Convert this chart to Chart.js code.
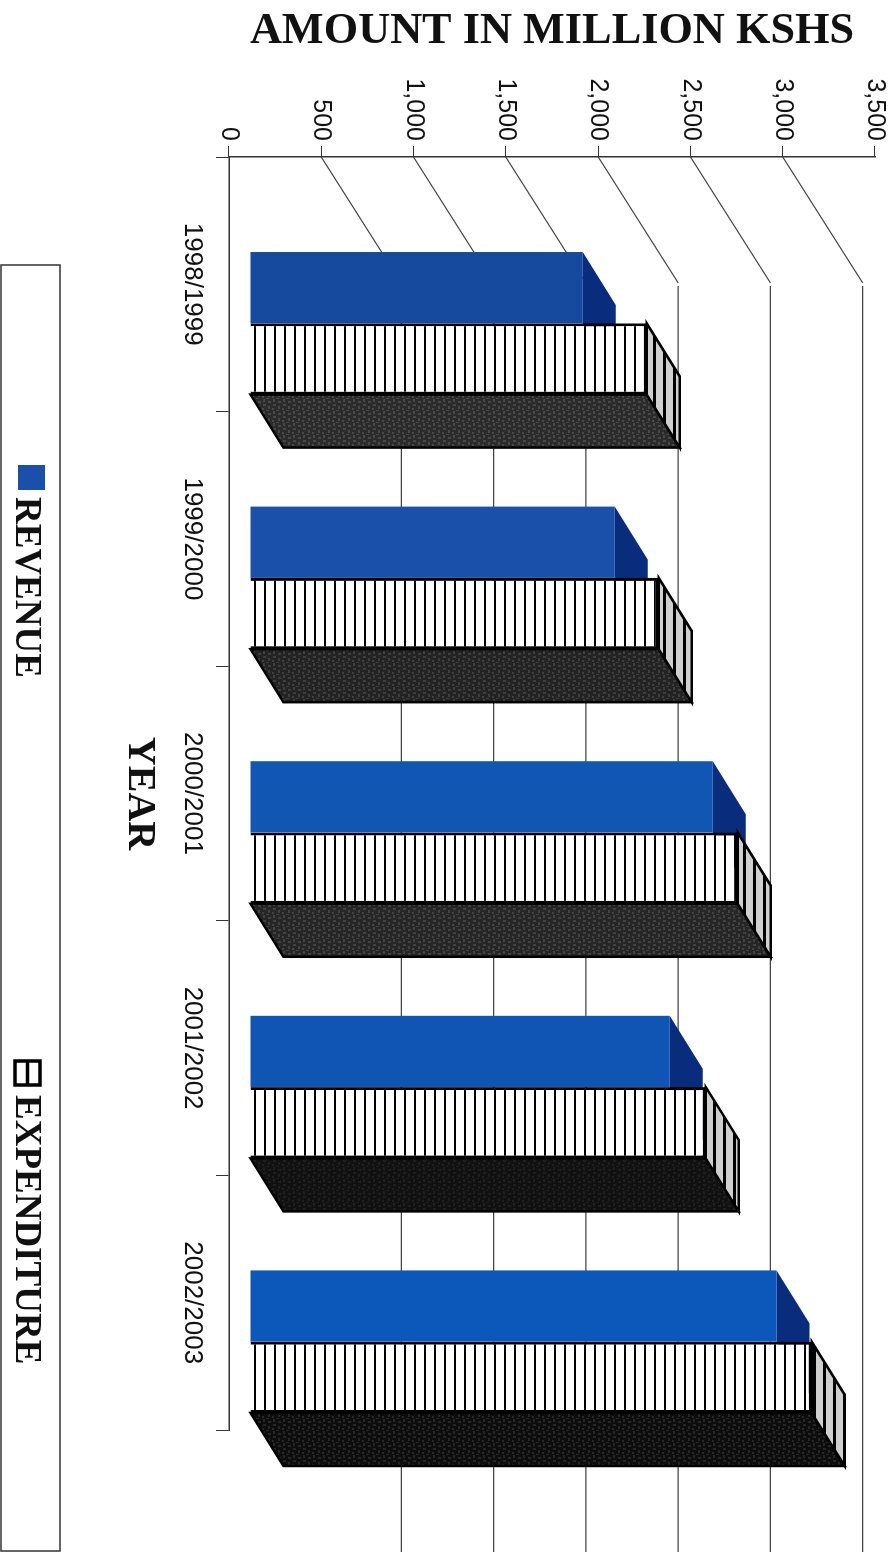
<!DOCTYPE html>
<html>
<head>
<meta charset="utf-8">
<title>Amount in million Kshs</title>
<script src="https://cdn.jsdelivr.net/npm/chart.js@4"></script>
<style>
    html, body { margin: 0; padding: 0; background: #fff; overflow: hidden; }
    /* the page is a landscape chart turned a quarter clockwise */
    #wrap { position: absolute; left: 895px; top: 0; width: 1552px; height: 895px;
            transform-origin: 0 0; transform: rotate(90deg); }
</style>
</head>
<body>
<div id="wrap"><canvas id="chart" width="1552" height="895"></canvas></div>
<script>
const years = ["1998/1999", "1999/2000", "2000/2001", "2001/2002", "2002/2003"];
const revenue = [1803, 1976, 2507, 2274, 2853];
const expenditure = [2149, 2214, 2642, 2469, 3043];

const seriesNames = ["REVENUE", "EXPENDITURE"];
const valueTitle = "AMOUNT IN MILLION KSHS";
const yearTitle = "YEAR";

const serif = "'Liberation Serif', 'Times New Roman', serif";
const sans = "'Liberation Sans', Arial, sans-serif";
const blues = ["#164a9f", "#1a50a9", "#1256b3", "#1054b4", "#0c58ba"];
const darkBlue = "#0a2c7c";

function stripes(size, bg, line, lineSize) {
    const c = document.createElement("canvas");
    c.width = 4;
    c.height = size;
    const g = c.getContext("2d");
    g.fillStyle = bg;
    g.fillRect(0, 0, 4, size);
    g.fillStyle = line;
    g.fillRect(0, 0, 4, lineSize);
    return g.createPattern(c, "repeat");
}

// the scan leaves the dark side faces mottled, fixed tile so it stays the same every run
function mottle(base, spot) {
    const c = document.createElement("canvas");
    c.width = 12;
    c.height = 10;
    const g = c.getContext("2d");
    g.fillStyle = base;
    g.fillRect(0, 0, 12, 10);
    g.fillStyle = spot;
    [[0, 1, 3, 2], [5, 0, 2, 3], [9, 2, 2, 2], [2, 5, 2, 3], [7, 6, 3, 2], [11, 7, 1, 3]].forEach(s => {
        g.fillRect(s[0], s[1], s[2], s[3]);
    });
    return g.createPattern(c, "repeat");
}

const frontHatch = stripes(10, "#ffffff", "#000000", 2);
const topHatch = stripes(10, "#cfcfcf", "#000000", 3);
const sideFaces = [
    mottle("#2b2b2b", "#484848"),
    mottle("#232323", "#3e3e3e"),
    mottle("#262626", "#424242"),
    mottle("#111111", "#1f1f1f"),
    mottle("#0d0d0d", "#262626")
];

// bars stand inside the box, so they sit in from the axis
const barShift = { x: 39, y: -21 };
const barDepth = { x: 53, y: -33 };
const wallDepth = { x: 126, y: -80 };

function face(ctx, pts, fill, stroke) {
    ctx.beginPath();
    ctx.moveTo(pts[0][0], pts[0][1]);
    for (let i = 1; i < pts.length; i++) ctx.lineTo(pts[i][0], pts[i][1]);
    ctx.closePath();
    ctx.fillStyle = fill;
    ctx.fill();
    if (stroke) {
        ctx.strokeStyle = stroke;
        ctx.lineWidth = 2.5;
        ctx.stroke();
    }
}

const box3d = {
    id: "box3d",
    beforeDatasetsDraw(chart) {
        const ctx = chart.ctx;
        const y = chart.scales.y;
        const right = chart.width;

        // wall lines: diagonal from the axis, then along the back
        ctx.save();
        ctx.strokeStyle = "#444";
        ctx.lineWidth = 1.2;
        y.ticks.forEach(t => {
            if (t.value === 0 || t.value === y.max) return;
            const py = y.getPixelForValue(t.value);
            const left = chart.chartArea.left;
            ctx.beginPath();
            ctx.moveTo(left, py);
            ctx.lineTo(left + wallDepth.x, py + wallDepth.y);
            ctx.moveTo(left + wallDepth.x + 3, py + wallDepth.y);
            ctx.lineTo(right, py + wallDepth.y);
            ctx.stroke();
        });

        ctx.translate(barShift.x, barShift.y);

        const dx = barDepth.x, dy = barDepth.y;
        chart.getDatasetMeta(0).data.forEach(b => {
            const l = b.x - b.width / 2, r = b.x + b.width / 2;
            face(ctx, [[l, b.y], [r, b.y], [r + dx, b.y + dy], [l + dx, b.y + dy]], darkBlue);
        });
        chart.getDatasetMeta(1).data.forEach((b, i) => {
            const l = b.x - b.width / 2, r = b.x + b.width / 2;
            face(ctx, [[r, b.base], [r + dx, b.base + dy], [r + dx, b.y + dy], [r, b.y]], sideFaces[i], "#000");
            face(ctx, [[l, b.y], [r, b.y], [r + dx, b.y + dy], [l + dx, b.y + dy]], topHatch, "#000");
        });
        // left on for the bars themselves, undone after the datasets
    },
    afterDatasetsDraw(chart) {
        chart.ctx.restore();
    }
};

const legendBox = {
    id: "legendBox",
    afterDraw(chart) {
        const ctx = chart.ctx;
        ctx.save();
        ctx.strokeStyle = "#333";
        ctx.lineWidth = 1.5;
        ctx.strokeRect(265, 835, 1286, 59);

        ctx.fillStyle = blues[1];
        ctx.fillRect(465, 850, 25, 27);

        ctx.strokeStyle = "#000";
        ctx.lineWidth = 3.5;
        ctx.strokeRect(1061, 855, 24, 25);
        ctx.beginPath();
        ctx.moveTo(1061, 867.5);
        ctx.lineTo(1085, 867.5);
        ctx.stroke();

        ctx.fillStyle = "#111";
        ctx.font = "bold 37px " + serif;
        ctx.textBaseline = "alphabetic";
        ctx.fillText(seriesNames[0], 497, 879);
        ctx.fillText(seriesNames[1], 1095, 879);
        ctx.restore();
    }
};

new Chart(document.getElementById("chart"), {
    type: "bar",
    data: {
        labels: years,
        datasets: [
            { label: seriesNames[0], data: revenue, backgroundColor: blues, borderWidth: 0, clip: false },
            { label: seriesNames[1], data: expenditure, backgroundColor: frontHatch, borderColor: "#000", borderWidth: 3, clip: false }
        ]
    },
    options: {
        responsive: false,
        animation: false,
        layout: { padding: { top: 17, right: 122 } },
        categoryPercentage: 0.56,
        barPercentage: 1,
        plugins: {
            legend: { display: false },
            tooltip: { enabled: false }
        },
        scales: {
            x: {
                afterFit(scale) { scale.height = 229; },
                grid: { drawOnChartArea: false, color: "#333", tickLength: 13 },
                border: { color: "#333", width: 1.5 },
                ticks: { color: "#111", font: { family: sans, size: 26 }, padding: 8, maxRotation: 0 },
                title: {
                    display: true,
                    text: yearTitle,
                    color: "#111",
                    font: { family: serif, size: 40, weight: "bold" },
                    padding: { top: 0, bottom: 115 }
                }
            },
            y: {
                min: 0,
                max: 3500,
                afterFit(scale) { scale.width = 157; },
                grid: { drawOnChartArea: false, color: "#333", tickLength: 11 },
                border: { color: "#333", width: 1.5 },
                ticks: {
                    stepSize: 500,
                    color: "#111",
                    font: { family: sans, size: 25 },
                    padding: 5,
                    callback: v => v.toLocaleString("en-US")
                },
                title: {
                    display: true,
                    text: valueTitle,
                    color: "#111",
                    font: { family: serif, size: 44.3, weight: "bold" },
                    padding: { top: 5, bottom: 0 }
                }
            }
        }
    },
    plugins: [box3d, legendBox]
});
</script>
</body>
</html>
